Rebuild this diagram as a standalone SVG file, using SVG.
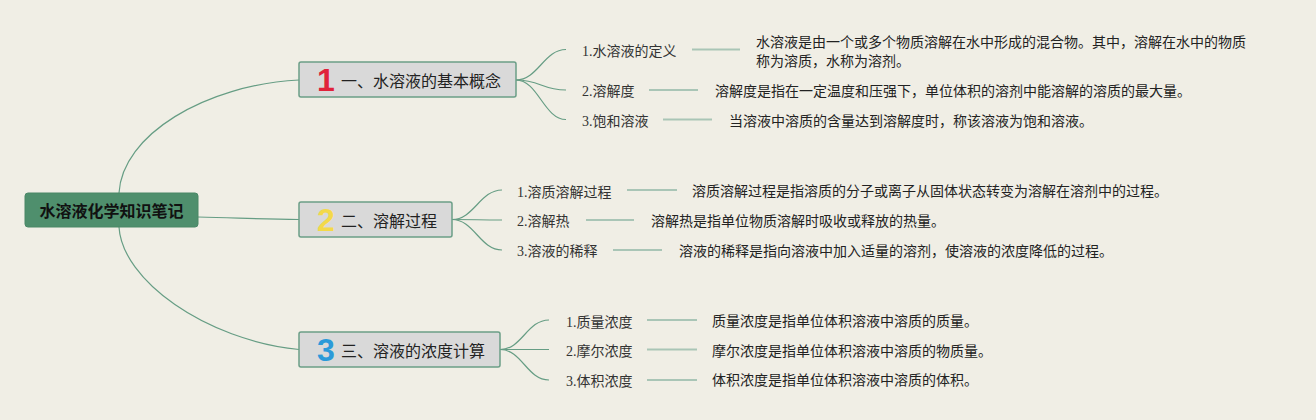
<svg xmlns="http://www.w3.org/2000/svg" width="1316" height="420" viewBox="0 0 1316 420">
<style>
.bg{fill:#f0eee5}
.root{fill:#4f8f6d;stroke:#4a8767;stroke-width:1}
.rootT{font-family:"Noto Sans CJK SC",sans-serif;font-size:16px;font-weight:bold;fill:#111}
.main{fill:#d9d9d9;stroke:#6b9e87;stroke-width:1.5}
.mainT{font-family:"Noto Sans CJK SC",sans-serif;font-size:16px;fill:#222}
.num{font-family:"Liberation Sans","Noto Sans",sans-serif;font-size:32px;font-weight:bold}
.sub{font-family:"Liberation Serif","Noto Sans CJK SC",serif;font-size:14px;fill:#333}
.desc{font-family:"Noto Sans CJK SC",sans-serif;font-size:14px;fill:#222}
.curve{fill:none;stroke:#669d84;stroke-width:1.2}
.link{fill:none;stroke:#a9c5b6;stroke-width:2}
</style>
<rect class="bg" x="0" y="0" width="1316" height="420"/>
<g id="connectors">
<path class="curve" d="M119,193 C122,135 205,85 299,80"/>
<path class="curve" d="M198,217 C240,218 260,219 299,219.5"/>
<path class="curve" d="M119,227 C122,280 205,340 299,349.5"/>
<path class="curve" d="M516,80 C538,80 544,49.5 566,49.5"/>
<path class="curve" d="M516,80 C540,80 542,90 566,90"/>
<path class="curve" d="M516,80 C538,80 544,119.5 566,119.5"/>
<path class="curve" d="M452,219.5 C474,219.5 480,190 502,190"/>
<path class="curve" d="M452,219.5 C476,219.5 478,220 502,220"/>
<path class="curve" d="M452,219.5 C474,219.5 480,250 502,250"/>
<path class="curve" d="M500,349.5 C522,349.5 527,320 549,320"/>
<path class="curve" d="M500,349.5 C524,349.5 525,349.5 549,349.5"/>
<path class="curve" d="M500,349.5 C522,349.5 527,380 549,380"/>
<line class="link" x1="692" y1="49.5" x2="740" y2="49.5"/>
<line class="link" x1="649" y1="90" x2="698" y2="90"/>
<line class="link" x1="663" y1="119.5" x2="712" y2="119.5"/>
<line class="link" x1="627" y1="190" x2="677" y2="190"/>
<line class="link" x1="586" y1="220" x2="634" y2="220"/>
<line class="link" x1="613" y1="250" x2="662" y2="250"/>
<line class="link" x1="647" y1="320" x2="697" y2="320"/>
<line class="link" x1="647" y1="349.5" x2="697" y2="349.5"/>
<line class="link" x1="647" y1="380" x2="697" y2="380"/>
</g>
<g id="root">
<rect class="root" x="25" y="193" width="173" height="34" rx="3"/>
<text class="rootT" x="111.5" y="216.5" text-anchor="middle">水溶液化学知识笔记</text>
</g>
<g id="node1">
<rect class="main" x="299" y="62" width="217" height="35" rx="2"/>
<text class="num" x="317" y="91" fill="#e0223a">1</text>
<text class="mainT" x="341" y="87">一、水溶液的基本概念</text>
</g>
<g id="node2">
<rect class="main" x="299" y="202" width="153" height="35" rx="2"/>
<text class="num" x="317" y="231" fill="#f3d94a">2</text>
<text class="mainT" x="341" y="227">二、溶解过程</text>
</g>
<g id="node3">
<rect class="main" x="299" y="332" width="201" height="35" rx="2"/>
<text class="num" x="317" y="361" fill="#2b9ad9">3</text>
<text class="mainT" x="341" y="357">三、溶液的浓度计算</text>
</g>
<g id="n1c1"><text class="sub" x="582" y="56">1.水溶液的定义</text></g>
<g id="n1d1"><text class="desc" x="756" y="47">水溶液是由一个或多个物质溶解在水中形成的混合物。其中，溶解在水中的物质</text><text class="desc" x="756" y="66">称为溶质，水称为溶剂。</text></g>
<g id="n1c2"><text class="sub" x="582" y="96">2.溶解度</text></g>
<g id="n1d2"><text class="desc" x="715" y="96">溶解度是指在一定温度和压强下，单位体积的溶剂中能溶解的溶质的最大量。</text></g>
<g id="n1c3"><text class="sub" x="582" y="125.5">3.饱和溶液</text></g>
<g id="n1d3"><text class="desc" x="729" y="126">当溶液中溶质的含量达到溶解度时，称该溶液为饱和溶液。</text></g>
<g id="n2c1"><text class="sub" x="517" y="196.5">1.溶质溶解过程</text></g>
<g id="n2d1"><text class="desc" x="692" y="196">溶质溶解过程是指溶质的分子或离子从固体状态转变为溶解在溶剂中的过程。</text></g>
<g id="n2c2"><text class="sub" x="517" y="226">2.溶解热</text></g>
<g id="n2d2"><text class="desc" x="651" y="226">溶解热是指单位物质溶解时吸收或释放的热量。</text></g>
<g id="n2c3"><text class="sub" x="517" y="256">3.溶液的稀释</text></g>
<g id="n2d3"><text class="desc" x="679" y="256">溶液的稀释是指向溶液中加入适量的溶剂，使溶液的浓度降低的过程。</text></g>
<g id="n3c1"><text class="sub" x="566" y="326.5">1.质量浓度</text></g>
<g id="n3d1"><text class="desc" x="712" y="326">质量浓度是指单位体积溶液中溶质的质量。</text></g>
<g id="n3c2"><text class="sub" x="566" y="355.5">2.摩尔浓度</text></g>
<g id="n3d2"><text class="desc" x="712" y="356">摩尔浓度是指单位体积溶液中溶质的物质量。</text></g>
<g id="n3c3"><text class="sub" x="566" y="385.5">3.体积浓度</text></g>
<g id="n3d3"><text class="desc" x="712" y="385">体积浓度是指单位体积溶液中溶质的体积。</text></g>
</svg>
